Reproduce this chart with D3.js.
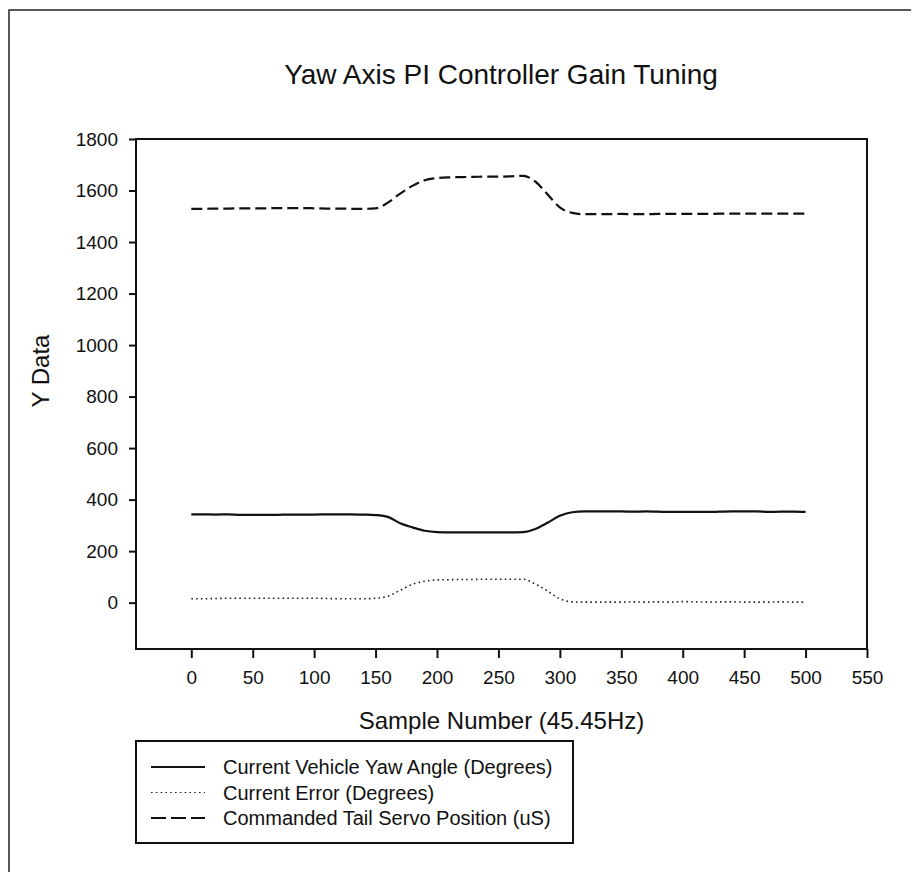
<!DOCTYPE html>
<html>
<head>
<meta charset="utf-8">
<script src="https://cdn.jsdelivr.net/npm/d3@7"></script>
<style>
  body { margin: 0; background: #fff; }
  svg { display: block; font-family: "Liberation Sans", Arial, sans-serif; }
</style>
</head>
<body>
<svg id="chart" width="916" height="872"></svg>
<script>
"use strict"

// Sample number (x) and the three traces
const samples = [0, 10, 20, 30, 40, 50, 60, 70, 80, 90, 100, 110, 120, 130, 140, 150, 160, 170, 180, 190,
    200, 210, 220, 230, 240, 250, 260, 270, 280, 290, 300, 310, 320, 330, 340, 350, 360, 370, 380, 390,
    400, 410, 420, 430, 440, 450, 460, 470, 480, 490, 500]

const yawAngle = [343, 343, 342, 343, 341, 341, 341, 341, 342, 342, 342, 343, 343, 343, 342, 340, 333, 308, 292, 279,
    274, 273, 273, 273, 273, 273, 273, 274, 286, 310, 337, 351, 354, 354, 354, 354, 353, 354, 353, 352,
    352, 352, 352, 353, 354, 354, 354, 352, 353, 353, 352]

const errorDeg = [15, 15, 16, 17, 17, 17, 17, 17, 17, 17, 17, 16, 15, 15, 15, 17, 25, 48, 71, 83,
    88, 89, 90, 90, 91, 91, 91, 91, 72, 45, 15, 3, 2, 2, 2, 2, 3, 2, 3, 2,
    4, 3, 2, 3, 3, 2, 2, 2, 3, 2, 2]

const servoPos = [1529, 1529, 1530, 1530, 1531, 1531, 1531, 1532, 1532, 1532, 1531, 1530, 1530, 1529, 1529, 1531, 1553, 1588, 1618, 1640,
    1648, 1651, 1652, 1653, 1654, 1654, 1655, 1657, 1635, 1585, 1535, 1513, 1508, 1508, 1508, 1509, 1508, 1508, 1509, 1509,
    1509, 1509, 1509, 1510, 1510, 1510, 1510, 1510, 1510, 1510, 1510]

const xTicks = [0, 50, 100, 150, 200, 250, 300, 350, 400, 450, 500, 550]
const yTicks = [0, 200, 400, 600, 800, 1000, 1200, 1400, 1600, 1800]

const seriesNames = [
    "Current Vehicle Yaw Angle (Degrees)",
    "Current Error (Degrees)",
    "Commanded Tail Servo Position (uS)"
]

const svg = d3.select("#chart")

// plot area
const plot = { left: 136, right: 867, top: 139, bottom: 649 }

const x = d3.scaleLinear().domain([-45, 550]).range([plot.left, plot.right])
const y = d3.scaleLinear().domain([-180, 1800]).range([plot.bottom, plot.top])

// page frame (left and top edges)
svg.append("path")
    .attr("d", "M9,872V10H911")
    .attr("fill", "none")
    .attr("stroke", "#222")
    .attr("stroke-width", 1.5)

// title
svg.append("text")
    .attr("x", 501)
    .attr("y", 84)
    .attr("text-anchor", "middle")
    .style("font-size", "28px")
    .style("fill", "#111")
    .text("Yaw Axis PI Controller Gain Tuning")

// axes
const xAxis = d3.axisBottom(x).tickValues(xTicks).tickFormat(d3.format("d"))
    .tickSize(9).tickSizeOuter(0).tickPadding(13)
const yAxis = d3.axisLeft(y).tickValues(yTicks).tickFormat(d3.format("d"))
    .tickSize(7).tickSizeOuter(0).tickPadding(11)

const gx = svg.append("g").attr("transform", `translate(0,${plot.bottom})`).call(xAxis)
const gy = svg.append("g").attr("transform", `translate(${plot.left},0)`).call(yAxis)

for (const g of [gx, gy]) {
    g.select(".domain").remove()
    g.selectAll(".tick line").attr("stroke", "#111").attr("stroke-width", 2)
    g.selectAll(".tick text")
        .style("font-size", "19px")
        .style("font-family", "'Liberation Sans', Arial, sans-serif")
        .attr("fill", "#111")
}

// frame around plot
svg.append("rect")
    .attr("x", plot.left)
    .attr("y", plot.top)
    .attr("width", plot.right - plot.left)
    .attr("height", plot.bottom - plot.top)
    .attr("fill", "none")
    .attr("stroke", "#111")
    .attr("stroke-width", 2)

// axis titles
svg.append("text")
    .attr("x", 501.5)
    .attr("y", 729)
    .attr("text-anchor", "middle")
    .style("font-size", "24px")
    .style("fill", "#111")
    .text("Sample Number (45.45Hz)")

svg.append("text")
    .attr("transform", "translate(49,371) rotate(-90)")
    .attr("text-anchor", "middle")
    .style("font-size", "24px")
    .style("fill", "#111")
    .text("Y Data")

// traces
const styles = [
    { dash: null, width: 2.2, color: "#111" },
    { dash: "1.6,3.2", width: 1.6, color: "#222" },
    { dash: "11,5", width: 2.2, color: "#111" }
]
const traces = [yawAngle, errorDeg, servoPos]

const line = d3.line()
    .x(d => x(d[0]))
    .y(d => y(d[1]))
    .curve(d3.curveMonotoneX)

traces.forEach((vals, i) => {
    svg.append("path")
        .datum(samples.map((s, j) => [s, vals[j]]))
        .attr("d", line)
        .attr("fill", "none")
        .attr("stroke", styles[i].color)
        .attr("stroke-width", styles[i].width)
        .attr("stroke-dasharray", styles[i].dash)
})

// legend
const legend = svg.append("g")
legend.append("rect")
    .attr("x", 136)
    .attr("y", 741)
    .attr("width", 437)
    .attr("height", 102)
    .attr("fill", "none")
    .attr("stroke", "#111")
    .attr("stroke-width", 2)

seriesNames.forEach((name, i) => {
    const cy = 767 + i * 25.5
    legend.append("line")
        .attr("x1", 151).attr("x2", 205)
        .attr("y1", cy).attr("y2", cy)
        .attr("stroke", styles[i].color)
        .attr("stroke-width", i === 1 ? 1.2 : 2)
        .attr("stroke-dasharray", i === 2 ? "15,5" : styles[i].dash)
    legend.append("text")
        .attr("x", 223)
        .attr("y", cy)
        .attr("dy", "0.35em")
        .style("font-size", "20px")
        .style("fill", "#111")
        .text(name)
})
</script>
</body>
</html>
